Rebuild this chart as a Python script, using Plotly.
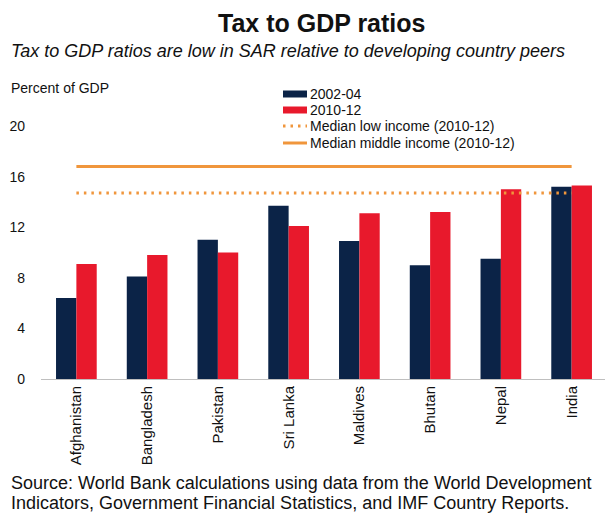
import plotly.graph_objects as go

countries = ["Afghanistan", "Bangladesh", "Pakistan", "Sri Lanka", "Maldives", "Bhutan", "Nepal", "India"]
v_2002_04 = [6.4, 8.1, 11.0, 13.7, 10.9, 9.0, 9.5, 15.2]
v_2010_12 = [9.1, 9.8, 10.0, 12.1, 13.1, 13.2, 15.0, 15.3]
median_low = 14.7
median_middle = 16.8
y_ticks = [0, 4, 8, 12, 16, 20]
legend_names = ["2002-04", "2010-12", "Median low income (2010-12)", "Median middle income (2010-12)"]

NAVY = "#0b2347"
RED = "#e8192c"
ORANGE = "#f0963c"
FONT = "Liberation Sans, Arial, sans-serif"
TXT = "#111111"
DOT = "2.5px,5px"

OFF = 8  # page body margin
W, H = 613 - OFF, 518 - OFF
L, R, T = 41 - OFF, 6, 126 - OFF
B = H - (379 - OFF)
PW, PH = W - L - R, H - T - B


def px(x):
    return (x - OFF - L) / PW


def py(y):
    return (H - B - (y - OFF)) / PH


fig = go.Figure()
fig.add_trace(go.Bar(x=countries, y=v_2002_04, name=legend_names[0], marker_color=NAVY,
                     marker_line_width=0))
fig.add_trace(go.Bar(x=countries, y=v_2010_12, name=legend_names[1], marker_color=RED,
                     marker_line_width=0))
fig.add_trace(go.Scatter(x=countries, y=[median_low] * len(countries), mode="lines",
                         name=legend_names[2],
                         line=dict(color=ORANGE, width=3, dash=DOT), hoverinfo="skip"))
fig.add_trace(go.Scatter(x=countries, y=[median_middle] * len(countries), mode="lines",
                         name=legend_names[3],
                         line=dict(color=ORANGE, width=3), hoverinfo="skip"))

# manual legend (compact spacing like the reference)
leg_styles = [dict(color=NAVY, width=7), dict(color=RED, width=7),
              dict(color=ORANGE, width=3, dash=DOT), dict(color=ORANGE, width=3)]
leg_y = [94, 110, 126, 143]
shapes = []
annotations = []
for name, st, yy in zip(legend_names, leg_styles, leg_y):
    shapes.append(dict(type="line", xref="paper", yref="paper", x0=px(283), x1=px(307),
                       y0=py(yy), y1=py(yy), line=st))
    annotations.append(dict(text=name, x=px(308), xref="paper", y=py(yy), yref="paper",
                            xanchor="left", yanchor="middle", showarrow=False,
                            font=dict(size=14, color=TXT)))

annotations += [
    dict(text="<b>Tax to GDP ratios</b>", x=px(321), xref="paper", y=py(23.5), yref="paper",
         xanchor="center", yanchor="middle", showarrow=False,
         font=dict(size=25, color=TXT)),
    dict(text="<i>Tax to GDP ratios are low in SAR relative to developing country peers</i>",
         x=px(9), xref="paper", y=py(51), yref="paper", xanchor="left", yanchor="middle",
         showarrow=False, font=dict(size=18, color=TXT)),
    dict(text="Percent of GDP", x=px(9), xref="paper", y=py(88), yref="paper",
         xanchor="left", yanchor="middle", showarrow=False,
         font=dict(size=14, color=TXT)),
    dict(text="Source: World Bank calculations using data from the World Development",
         x=px(9), xref="paper", y=py(483), yref="paper", xanchor="left", yanchor="middle",
         align="left", showarrow=False, font=dict(size=18, color=TXT)),
    dict(text="Indicators, Government Financial Statistics, and IMF Country Reports.",
         x=px(9), xref="paper", y=py(503), yref="paper", xanchor="left", yanchor="middle",
         align="left", showarrow=False, font=dict(size=18, color=TXT)),
]

fig.update_layout(
    width=W, height=H,
    margin=dict(l=L, r=R, t=T, b=B),
    paper_bgcolor="white", plot_bgcolor="white",
    font=dict(family=FONT, color=TXT, size=14),
    barmode="group", bargap=0.425, bargroupgap=0,
    showlegend=False,
    xaxis=dict(showgrid=False, showline=True, linecolor="#bfbfbf", linewidth=1,
               tickangle=-90, tickfont=dict(size=15), ticks="", automargin=False),
    yaxis=dict(range=[0, 20], tickvals=y_ticks, showgrid=False, zeroline=False,
               showline=False, ticks="", tickfont=dict(size=14),
               ticklabelstandoff=15, automargin=False),
    shapes=shapes,
    annotations=annotations,
)

fig.write_html("out.html")
